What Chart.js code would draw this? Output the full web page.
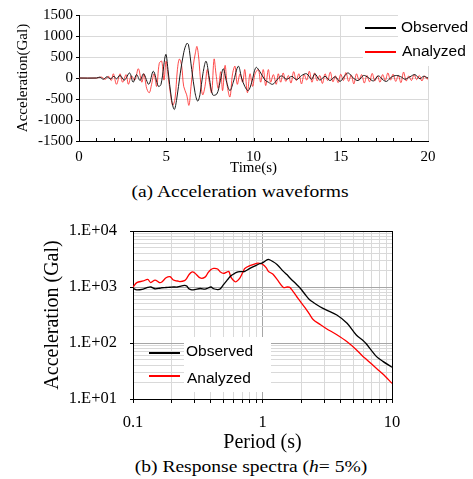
<!DOCTYPE html>
<html>
<head>
<meta charset="utf-8">
<script src="https://cdn.jsdelivr.net/npm/chart.js@4.4.1/dist/chart.umd.min.js"></script>
<style>
  html, body { margin: 0; padding: 0; background: #fff; }
  body { width: 473px; height: 479px; position: relative; overflow: hidden; font-family: 'Liberation Serif', 'Times New Roman', serif; }
  canvas { position: absolute; left: 0; }
  #waveCanvas { top: 0; }
  #specCanvas { top: 205px; }
  .caption { position: absolute; text-align: center; font-size: 17px; line-height: 20px; color: #000; white-space: nowrap; transform: scaleX(1.15); }
  .leg { position: absolute; font-family: 'Liberation Sans', Arial, sans-serif; font-size: 15.5px; line-height: 18px; color: #000; white-space: nowrap; }
  .box { position: absolute; background: #fff; }
  .swatch { position: absolute; height: 2px; width: 31px; }
  .sw-obs { background-color: #000000; }
  .sw-ana { background-color: #ff0000; }
</style>
</head>
<body>
<canvas id="waveCanvas" width="473" height="180"></canvas>
<canvas id="specCanvas" width="473" height="250"></canvas>

<!-- legend (a) -->
<div class="box" style="left:398px; top:0; width:75px; height:42px;"></div>
<div class="box" style="left:363px; top:42px; width:110px; height:24px;"></div>
<div class="swatch sw-obs" style="left:365px; top:27px;"></div>
<div class="swatch sw-ana" style="left:365px; top:51px;"></div>
<div class="leg" style="left:401px; top:18px;">Observed</div>
<div class="leg" style="left:402px; top:42px;">Analyzed</div>
<div class="caption" style="left:0; width:480px; top:182px;">(a) Acceleration waveforms</div>

<!-- legend (b) -->
<div class="box" style="left:184px; top:337px; width:87px; height:55px;"></div>
<div class="swatch sw-obs" style="left:149px; top:352px;"></div>
<div class="swatch sw-ana" style="left:149px; top:375px;"></div>
<div class="leg" style="left:186px; top:342px;">Observed</div>
<div class="leg" style="left:187px; top:369px;">Analyzed</div>
<div class="caption" style="left:11px; width:480px; top:457px;">(b) Response spectra (<i>h</i>= 5%)</div>

<script>
'use strict';

// ─── Data: (a) acceleration waveforms ────────────────────────────────────────
const obsTime = [0, 1.0, 1.2, 1.4, 1.6, 1.8, 2.0, 2.15, 2.35, 2.6, 2.9, 3.1, 3.3, 3.5, 3.7, 4.0, 4.26, 4.55, 4.7,
  4.97, 5.1, 5.3, 5.46, 5.6, 5.8, 6.0, 6.17, 6.27, 6.46, 6.65, 6.8, 6.93, 7.1, 7.28, 7.47, 7.66, 7.9, 8.08,
  8.27, 8.46, 8.65, 8.84, 9.13, 9.32, 9.5, 9.7, 9.9, 10.14, 10.37, 10.66, 10.85, 11.1, 11.33, 11.6, 11.9,
  12.2, 12.47, 12.76, 13.05, 13.33, 13.52, 13.8, 14.1, 14.38, 14.67, 14.96, 15.24, 15.43, 15.72, 16.0, 16.3,
  16.58, 16.87, 17.15, 17.44, 17.63, 17.9, 18.2, 18.49, 18.68, 18.97, 19.25, 19.54, 19.73, 20];
const obsAcc = [0, 0, 20, -30, 30, -20, 40, -20, 60, -50, 120, -100, 80, -60, 100, -150, 160, -200, -150,
  560, 200, -500, -750, -500, 100, 600, 820, 800, 200, -350, -550, -400, 100, 400, 0, -400, -380, -100,
  220, -100, -300, -100, 280, 0, -200, -300, -100, 250, 150, -50, -100, -150, -50, 50, -30,
  40, -40, 60, 100, -30, 100, -50, 40, -60, 30, -80, 60, 120, 0, -60, 60,
  10, -70, 50, -50, -80, 20, 60, 20, -30, 30, 80, -20, 40, 0];

const anaTime = [0, 1.0, 1.3, 1.5, 1.7, 1.85, 1.97, 2.15, 2.35, 2.5, 2.7, 2.83, 3.0, 3.2, 3.4, 3.6, 3.72, 3.88,
  4.03, 4.16, 4.3, 4.45, 4.6, 4.74, 4.87, 4.99, 5.12, 5.25, 5.37, 5.5, 5.64, 5.75, 5.88, 6.0, 6.17, 6.3,
  6.42, 6.55, 6.67, 6.76, 6.88, 6.97, 7.09, 7.22, 7.35, 7.47, 7.6, 7.74, 7.85, 7.98, 8.12, 8.23, 8.37, 8.5,
  8.65, 8.8, 8.94, 9.07, 9.23, 9.38, 9.5, 9.65, 9.8, 9.95, 10.09, 10.28, 10.41, 10.56, 10.7, 10.85, 10.98,
  11.14, 11.3, 11.42, 11.56,
  11.7, 11.85, 12.0, 12.15, 12.3, 12.45, 12.6, 12.75, 12.9, 13.05, 13.2, 13.35, 13.5, 13.65, 13.8, 13.95,
  14.1, 14.25, 14.4, 14.55, 14.7, 14.85, 15.0, 15.15, 15.3, 15.45, 15.6, 15.75, 15.9, 16.05, 16.2, 16.35,
  16.5, 16.65, 16.8, 16.95, 17.1, 17.25, 17.4, 17.55, 17.7, 17.85, 18.0, 18.15, 18.3, 18.45, 18.6, 18.75,
  18.9, 19.05, 19.2, 19.35, 19.5, 19.65, 19.8, 19.95, 20];
const anaAcc = [0, 0, 20, -30, 40, -60, 100, -150, 100, -100, 80, -150, 50, -50, 220, -100, 100, -250,
  -350, -150, 100, -200, 350, 400, -50, 400, 0, -400, -650, -500, 200, 450, 300, -200, -400, -650,
  -200, 300, 600, 750, 400, -100, -400, -200, 200, -100, -350, 450, 100, -250, 150, -300, 300, -200,
  -450, 100, 280, -150, 100, -100, 200, -350, 100, -200, 100, 200, -100, 200, -180, 200, -100,
  80, -150, 100, -100,
  120, -80, 60, -120, 150, -60, 100, -140, 80, -50, 160, -100, 120, -70, 60, -130,
  100, -60, 140, -90, 50, -110, 90, -60, 130, -80, 70, -140, 100, -50, 80, -120,
  60, -90, 110, -70, 50, -100, 80, -60, 120, -50, 90, -80, 60, -110, 140, -70,
  50, -60, 80, -40, 60, -70, 50, -30, 20];

const waveYTicks = [-1500, -1000, -500, 0, 500, 1000, 1500];
const waveXLabels = [0, 5, 10, 15, 20];

// ─── Data: (b) response spectra ──────────────────────────────────────────────
const periods = [0.1, 0.107, 0.12, 0.13, 0.137, 0.148, 0.16, 0.167, 0.18, 0.193, 0.205, 0.22, 0.23, 0.25,
  0.26, 0.27, 0.284, 0.3, 0.33, 0.36, 0.38, 0.4, 0.42, 0.45, 0.47, 0.5, 0.53, 0.55, 0.57, 0.61, 0.63,
  0.67, 0.71, 0.73, 0.8, 0.9, 0.95, 1.0, 1.07, 1.11, 1.2, 1.3, 1.45, 1.55, 1.63, 1.84, 1.95, 2.15, 2.3,
  2.47, 2.78, 3.1, 3.75, 4.5, 5.3, 6.0, 6.3, 7.6, 8.5, 10];
const obsSpec = [950, 890, 920, 980, 1000, 930, 950, 970, 980, 990, 1000, 1000, 1030, 1070,
  1040, 930, 890, 900, 940, 920, 960, 1000, 930, 900, 920, 1100, 1300, 1450, 1580, 1750, 1830,
  1880, 1880, 1900, 2150, 2450, 2600, 2700, 3000, 3100, 2850, 2500, 1900, 1650, 1450, 1100, 960, 720, 600,
  530, 445, 390, 316, 225, 139, 110, 98, 57, 47, 37];
const anaSpec = [1000, 1200, 1280, 1370, 1200, 1330, 1200, 1230, 1460, 1530, 1330, 1280, 1250, 1300,
  1430, 1650, 1850, 1780, 1450, 1500, 1800, 2050, 2150, 2100, 1880, 1750, 1850, 1900, 1500, 1250, 1250,
  1450, 1900, 2150, 2400, 2650, 2650, 2550, 2200, 1900, 1700, 1350, 980, 1000, 980, 670, 560, 415, 330,
  260, 215, 182, 140, 105, 76, 57, 52, 35, 28, 19];

const periodTicks = [0.1, 0.2, 0.3, 0.4, 0.5, 0.6, 0.7, 0.8, 0.9, 1, 2, 3, 4, 5, 6, 7, 8, 9, 10];
const periodLabels = { 0.1: '0.1', 1: '1', 10: '10' };
const accTicks = [10, 20, 30, 40, 50, 60, 70, 80, 90, 100, 200, 300, 400, 500, 600, 700, 800, 900,
  1000, 2000, 3000, 4000, 5000, 6000, 7000, 8000, 9000, 10000];
const accLabels = { 10: '1.E+01', 100: '1.E+02', 1000: '1.E+03', 10000: '1.E+04' };

// ─── Helpers ─────────────────────────────────────────────────────────────────
const SERIF = "'Liberation Serif', 'Times New Roman', serif";
const GRID_LIGHT = '#d9d9d9';

function pairs(xs, ys) {
  return xs.map((x, i) => ({ x, y: ys[i] }));
}

// small inward tick marks on the time axis, one per second
const innerTimeTicks = {
  id: 'innerTimeTicks',
  afterDraw(chart) {
    const x = chart.scales.x;
    const ctx = chart.ctx;
    ctx.save();
    ctx.strokeStyle = '#000';
    ctx.lineWidth = 1;
    ctx.beginPath();
    for (let t = x.min + 1; t < x.max; t++) {
      const px = Math.round(x.getPixelForValue(t)) + 0.5;
      ctx.moveTo(px, x.top);
      ctx.lineTo(px, x.top - 3);
    }
    ctx.stroke();
    ctx.restore();
  },
};

// ─── (a) Acceleration waveforms ──────────────────────────────────────────────
new Chart(document.getElementById('waveCanvas'), {
  type: 'line',
  data: {
    datasets: [
      {
        label: 'Observed',
        data: pairs(obsTime, obsAcc),
        borderColor: '#1a1a1a',
        borderWidth: 1,
        pointRadius: 0,
        tension: 0.35,
      },
      {
        label: 'Analyzed',
        data: pairs(anaTime, anaAcc),
        borderColor: 'rgba(255, 30, 30, 0.8)',
        borderWidth: 1,
        pointRadius: 0,
        tension: 0.35,
      },
    ],
  },
  options: {
    responsive: false,
    animation: false,
    events: [],
    layout: { padding: { left: 0, top: 15, right: 45, bottom: 0 } },
    plugins: { legend: { display: false }, tooltip: { enabled: false } },
    scales: {
      x: {
        type: 'linear',
        min: 0,
        max: 20,
        afterFit: (s) => { s.height = 39; },
        ticks: {
          stepSize: 1,
          autoSkip: false,
          maxRotation: 0,
          padding: 7,
          color: '#000',
          font: { family: SERIF, size: 15 },
          callback: (v) => (waveXLabels.includes(v) ? String(v) : ''),
        },
        grid: {
          color: (c) => (c.tick && waveXLabels.includes(c.tick.value) ? GRID_LIGHT : 'rgba(0,0,0,0)'),
          drawTicks: false,
        },
        border: { color: '#000', width: 1 },
        title: {
          display: true,
          text: 'Time(s)',
          color: '#000',
          font: { family: SERIF, size: 15 },
          padding: { top: 0, bottom: 3 },
        },
      },
      y: {
        min: -1500,
        max: 1500,
        afterFit: (s) => { s.width = 79; },
        afterBuildTicks: (s) => { s.ticks = waveYTicks.map((v) => ({ value: v })); },
        ticks: {
          padding: 3,
          color: '#000',
          font: { family: SERIF, size: 15 },
          callback: (v) => String(v),
        },
        grid: { color: GRID_LIGHT, tickColor: '#000', tickLength: 3 },
        border: { color: '#000', width: 1 },
        title: {
          display: true,
          text: 'Acceleration(Gal)',
          color: '#000',
          font: { family: SERIF, size: 15 },
          padding: { top: 14, bottom: 0 },
        },
      },
    },
  },
  plugins: [innerTimeTicks],
});

// ─── (b) Response spectra ────────────────────────────────────────────────────
new Chart(document.getElementById('specCanvas'), {
  type: 'line',
  data: {
    datasets: [
      {
        label: 'Observed',
        data: pairs(periods, obsSpec),
        borderColor: '#000',
        borderWidth: 1.3,
        pointRadius: 0,
        tension: 0.3,
      },
      {
        label: 'Analyzed',
        data: pairs(periods, anaSpec),
        borderColor: '#ff0000',
        borderWidth: 1.3,
        pointRadius: 0,
        tension: 0.3,
      },
    ],
  },
  options: {
    responsive: false,
    animation: false,
    events: [],
    layout: { padding: { left: 0, top: 26, right: 81, bottom: 0 } },
    plugins: { legend: { display: false }, tooltip: { enabled: false } },
    scales: {
      x: {
        type: 'logarithmic',
        min: 0.1,
        max: 10,
        afterFit: (s) => { s.height = 56; },
        afterBuildTicks: (s) => { s.ticks = periodTicks.map((v) => ({ value: v })); },
        ticks: {
          autoSkip: false,
          maxRotation: 0,
          padding: 10,
          color: '#000',
          font: { family: SERIF, size: 16.5 },
          callback: (v) => periodLabels[v] || '',
        },
        grid: {
          color: (c) => {
            const v = c.tick && c.tick.value;
            if (v === 10) return '#000';
            if (v === 1) return '#a6a6a6';
            return GRID_LIGHT;
          },
          tickColor: '#000',
          tickLength: 4,
        },
        border: { color: '#000', width: 1 },
        title: {
          display: true,
          text: 'Period (s)',
          color: '#000',
          font: { family: SERIF, size: 20 },
          padding: { top: 0, bottom: 0 },
        },
      },
      y: {
        type: 'logarithmic',
        min: 10,
        max: 10000,
        afterFit: (s) => { s.width = 133; },
        afterBuildTicks: (s) => { s.ticks = accTicks.map((v) => ({ value: v })); },
        ticks: {
          autoSkip: false,
          padding: 13,
          color: '#000',
          font: { family: SERIF, size: 16.5 },
          callback: (v) => accLabels[v] || '',
        },
        grid: {
          color: (c) => {
            const v = c.tick && c.tick.value;
            if (v === 10000) return '#000';
            if (v === 100 || v === 1000) return '#a6a6a6';
            return GRID_LIGHT;
          },
          tickColor: (c) => (c.tick && accLabels[c.tick.value] ? '#000' : 'rgba(0,0,0,0)'),
          tickLength: 3,
        },
        border: { color: '#000', width: 1 },
        title: {
          display: true,
          text: 'Acceleration (Gal)',
          color: '#000',
          font: { family: SERIF, size: 20 },
          padding: { top: 41, bottom: 0 },
        },
      },
    },
  },
});
</script>
</body>
</html>
